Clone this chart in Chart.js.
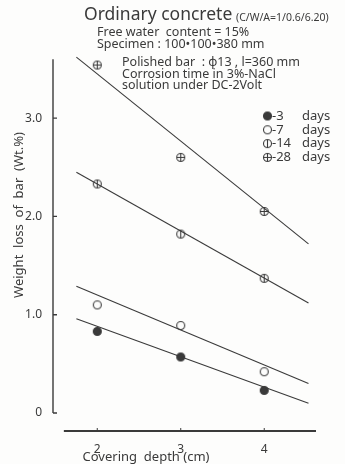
<!DOCTYPE html>
<html>
<head>
<meta charset="utf-8">
<script src="https://cdn.jsdelivr.net/npm/chart.js@4"></script>
<style>
  html, body { margin: 0; padding: 0; background: #fdfdfc; }
  canvas { display: block; }
</style>
</head>
<body>
<canvas id="weight_chart" width="345" height="464"></canvas>
<script>
const depth = [2, 3, 4];
const days3 = [0.83, 0.57, 0.23];
const days7 = [1.10, 0.89, 0.42];
const days14 = [2.33, 1.82, 1.37];
const days28 = [3.54, 2.60, 2.05];

// ends of the fitted straight lines
const fitX = [1.75, 4.53];
const fit3 = [0.96, 0.10];
const fit7 = [1.29, 0.30];
const fit14 = [2.45, 1.12];
const fit28 = [3.62, 1.72];

const yTicks = [0, 1, 2, 3];
const xTicks = [2, 3, 4];
const seriesLabels = ['-3', '-7', '-14', '-28'];

const ink = '#3a3a3a';
const font = '"Noto Sans", sans-serif';

function make_marker(kind) {
  const c = document.createElement('canvas');
  c.width = 11; c.height = 11;
  const g = c.getContext('2d');
  g.strokeStyle = ink;
  g.fillStyle = ink;
  g.lineWidth = 1.1;
  g.beginPath();
  g.arc(5.5, 5.5, 4, 0, 2 * Math.PI);
  if (kind === 'filled') g.fill();
  g.stroke();
  g.beginPath();
  if (kind === 'bar' || kind === 'cross') { g.moveTo(5.5, 1.5); g.lineTo(5.5, 9.5); }
  if (kind === 'cross') { g.moveTo(1.5, 5.5); g.lineTo(9.5, 5.5); }
  g.stroke();
  return c;
}
const markers = [make_marker('filled'), make_marker('open'), make_marker('bar'), make_marker('cross')];

function points(values) {
  return depth.map((d, i) => ({x: d, y: values[i]}));
}
function fitted(values) {
  return fitX.map((x, i) => ({x: x, y: values[i]}));
}

const pointSets = [days3, days7, days14, days28].map((vals, i) => ({
  type: 'scatter',
  label: seriesLabels[i] + ' days',
  data: points(vals),
  pointStyle: markers[i],
  pointRadius: 4
}));
const lineSets = [fit3, fit7, fit14, fit28].map(vals => ({
  type: 'line',
  data: fitted(vals),
  borderColor: ink,
  borderWidth: 1.1,
  pointRadius: 0,
  fill: false
}));

const paperPlugin = {
  id: 'paper',
  beforeDatasetsDraw(chart) {
    const ctx = chart.ctx;
    const xs = chart.scales.x, ys = chart.scales.y;
    const left = chart.chartArea.left, bottom = chart.chartArea.bottom;
    ctx.save();
    ctx.strokeStyle = ink;
    // y axis
    ctx.lineWidth = 1.4;
    ctx.beginPath();
    ctx.moveTo(left, ys.getPixelForValue(3.6));
    ctx.lineTo(left, ys.getPixelForValue(0));
    yTicks.forEach(v => {
      const p = ys.getPixelForValue(v);
      ctx.moveTo(left, p); ctx.lineTo(left + 4, p);
    });
    ctx.stroke();
    // x axis
    ctx.lineWidth = 2;
    ctx.beginPath();
    ctx.moveTo(xs.getPixelForValue(1.6), bottom);
    ctx.lineTo(xs.getPixelForValue(4.62), bottom);
    ctx.stroke();
    ctx.lineWidth = 1;
    ctx.beginPath();
    xTicks.forEach(v => {
      const p = xs.getPixelForValue(v);
      ctx.moveTo(p, bottom); ctx.lineTo(p, bottom - 3);
    });
    ctx.stroke();
    ctx.restore();
  },
  afterDraw(chart) {
    const ctx = chart.ctx;
    ctx.save();
    ctx.fillStyle = ink;
    ctx.textBaseline = 'middle';
    ctx.textAlign = 'left';
    ctx.font = '17.5px ' + font;
    ctx.fillText('Ordinary concrete', 84, 15);
    ctx.font = '10.5px ' + font;
    ctx.fillText('(C/W/A=1/0.6/6.20)', 236, 18);
    ctx.font = '12.5px ' + font;
    ctx.fillText('Free water  content = 15%', 97, 32);
    ctx.fillText('Specimen : 100•100•380 mm', 97, 44);
    ctx.fillText('Polished bar  : ϕ13 , l=360 mm', 122, 62);
    ctx.fillText('Corrosion time in 3%-NaCl', 122, 74);
    ctx.fillText('solution under DC-2Volt', 122, 85);
    // legend
    ctx.font = '13px ' + font;
    seriesLabels.forEach((lab, i) => {
      const y = 116 + i * 13.8;
      ctx.drawImage(markers[i], 262, y - 5.5);
      ctx.fillText(lab, 272, y);
      ctx.fillText('days', 302, y);
    });
    // axis titles
    ctx.font = '13px ' + font;
    ctx.textAlign = 'center';
    ctx.fillText('Covering  depth (cm)', 146, 457);
    ctx.translate(19, 215);
    ctx.rotate(-Math.PI / 2);
    ctx.fillText('Weight  loss  of  bar  (Wt.%)', 0, 0);
    ctx.restore();
  }
};

new Chart(document.getElementById('weight_chart'), {
  type: 'scatter',
  data: { datasets: [...lineSets, ...pointSets] },
  options: {
    responsive: false,
    devicePixelRatio: 1,
    animation: false,
    layout: { padding: { top: 55, right: 29, left: 0, bottom: 0 } },
    plugins: { legend: { display: false }, tooltip: { enabled: false } },
    scales: {
      x: {
        type: 'linear',
        min: 1.47,
        max: 4.62,
        grid: { display: false },
        border: { display: false },
        afterBuildTicks: scale => { scale.ticks = xTicks.map(v => ({value: v})); },
        afterFit: scale => { scale.height = 33; },
        ticks: { color: ink, padding: 3, font: { family: font, size: 12 } }
      },
      y: {
        type: 'linear',
        min: -0.183,
        max: 3.642,
        grid: { display: false },
        border: { display: false },
        afterBuildTicks: scale => { scale.ticks = yTicks.map(v => ({value: v})); },
        afterFit: scale => { scale.width = 53; },
        ticks: {
          color: ink, padding: 3, font: { family: font, size: 12 },
          callback: v => v === 0 ? '0' : v.toFixed(1)
        }
      }
    }
  },
  plugins: [paperPlugin]
});
</script>
</body>
</html>
